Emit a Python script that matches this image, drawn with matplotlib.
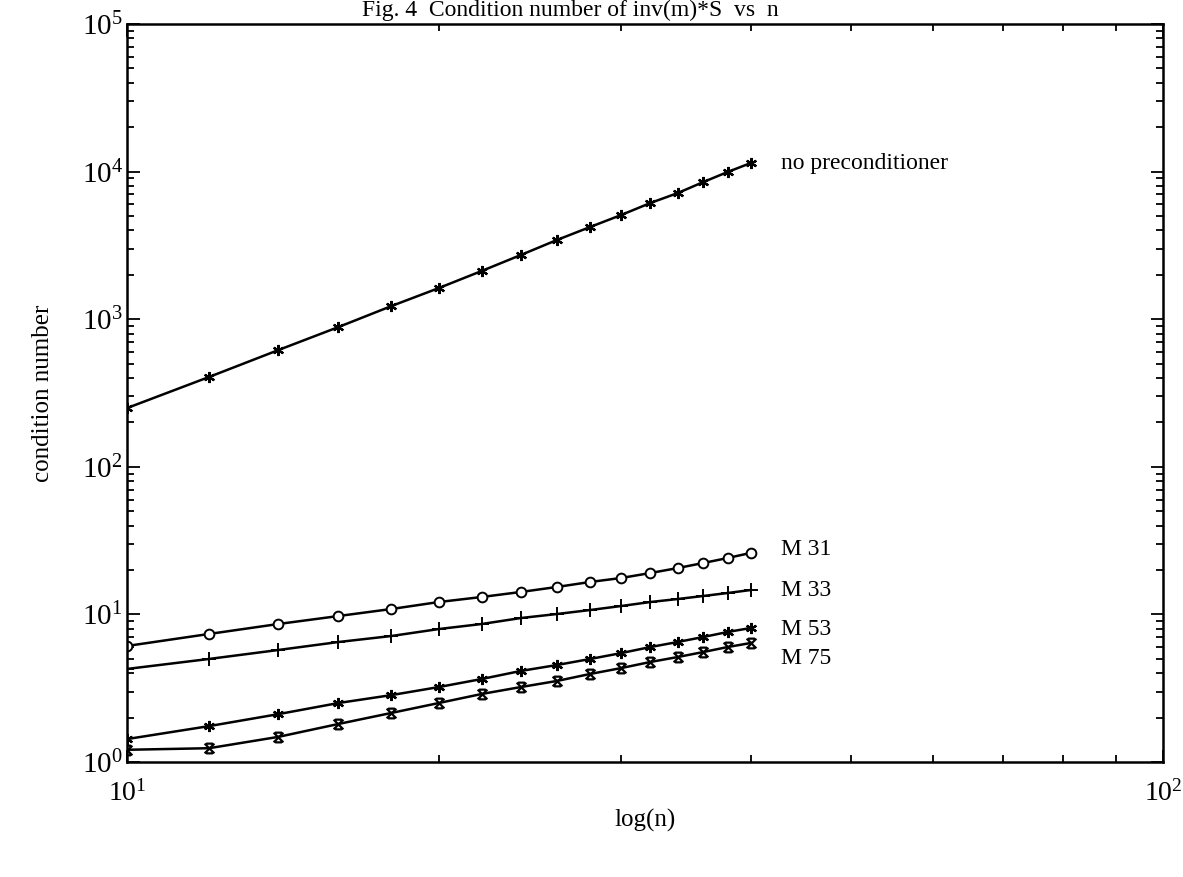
import matplotlib
matplotlib.use("Agg")
import matplotlib.pyplot as plt
from matplotlib.path import Path
from matplotlib.ticker import LogLocator, NullFormatter

plt.rcParams['font.family'] = ['Liberation Serif', 'DejaVu Serif']
plt.rcParams['mathtext.fontset'] = 'custom'
plt.rcParams['mathtext.rm'] = 'Liberation Serif'
plt.rcParams['mathtext.it'] = 'Liberation Serif:italic'

n = [10, 12, 14, 16, 18, 20, 22, 24, 26, 28, 30, 32, 34, 36, 38, 40]
no_precond = [250, 406, 618, 885, 1228, 1626, 2123, 2724, 3441, 4217, 5085,
              6127, 7150, 8500, 9940, 11430]
m31 = [6.11, 7.37, 8.61, 9.75, 10.88, 12.13, 13.12, 14.19, 15.34, 16.59,
       17.65, 19.07, 20.6, 22.3, 24.1, 26.1]
m33 = [4.27, 4.99, 5.74, 6.50, 7.14, 7.96, 8.61, 9.45, 10.06, 10.71, 11.40,
       12.13, 12.71, 13.33, 13.96, 14.63]
m53 = [1.43, 1.75, 2.11, 2.51, 2.84, 3.22, 3.65, 4.14, 4.54, 4.99, 5.47,
       6.01, 6.50, 7.03, 7.60, 8.09]
m75 = [1.21, 1.24, 1.48, 1.81, 2.15, 2.51, 2.89, 3.22, 3.54, 3.95, 4.33,
       4.76, 5.14, 5.56, 6.01, 6.40]

labels = ["no preconditioner", "M 31", "M 33", "M 53", "M 75"]
label_y = [11430, 27.5, 14.6, 7.85, 5.0]

title = "Fig. 4  Condition number of inv(m)*S  vs  n"
xlabel = "log(n)"
ylabel = "condition number"

# serif-x marker (x with horizontal caps)
xcap = Path([(-1, -1), (1, 1), (-1, 1), (1, -1), (-0.7, 1), (0.7, 1),
             (-0.7, -1), (0.7, -1)],
            [Path.MOVETO, Path.LINETO, Path.MOVETO, Path.LINETO,
             Path.MOVETO, Path.LINETO, Path.MOVETO, Path.LINETO])

fig = plt.figure(figsize=(11.83, 8.77), dpi=100)
ax = fig.add_axes([127 / 1183, 1 - 762 / 877, (1163 - 127) / 1183, (762 - 24) / 877])

lw = 1.8
ax.plot(n, no_precond, color='black', lw=lw, marker=(6, 2, 0), ms=8, mew=1.6)
ax.plot(n, m31, color='black', lw=lw, marker='o', ms=7, mfc='white', mew=1.4)
ax.plot(n, m33, color='black', lw=lw, marker='+', ms=10, mew=1.4)
ax.plot(n, m53, color='black', lw=lw, marker=(6, 2, 0), ms=8, mew=1.6)
ax.plot(n, m75, color='black', lw=lw, marker=xcap, ms=7, mew=1.6)

ax.set_xscale('log')
ax.set_yscale('log')
ax.set_xlim(10, 100)
ax.set_ylim(1, 1e5)

for lab, yv in zip(labels, label_y):
    ax.text(42.8, yv, lab, fontsize=17, va='center', ha='left')

ax.xaxis.set_major_locator(LogLocator(base=10, numticks=5))
ax.xaxis.set_minor_locator(LogLocator(base=10, subs=range(2, 10), numticks=10))
ax.yaxis.set_major_locator(LogLocator(base=10, numticks=10))
ax.yaxis.set_minor_locator(LogLocator(base=10, subs=range(2, 10), numticks=12))
ax.xaxis.set_minor_formatter(NullFormatter())
ax.yaxis.set_minor_formatter(NullFormatter())

ax.tick_params(which='both', direction='in', top=True, right=True, width=1.3)
ax.tick_params(which='major', length=9)
ax.tick_params(which='minor', length=5)
ax.tick_params(axis='y', which='major', pad=3, labelsize=21)
ax.tick_params(axis='x', which='major', pad=13, labelsize=20)
for s in ax.spines.values():
    s.set_linewidth(1.8)

ax.set_xlabel(xlabel, fontsize=18, labelpad=2)
ax.set_ylabel(ylabel, fontsize=18, labelpad=20)
fig.text(570 / 1183, 1 - 10 / 877, title, fontsize=17, ha='center', va='center')

fig.savefig("out.png", dpi=100)
